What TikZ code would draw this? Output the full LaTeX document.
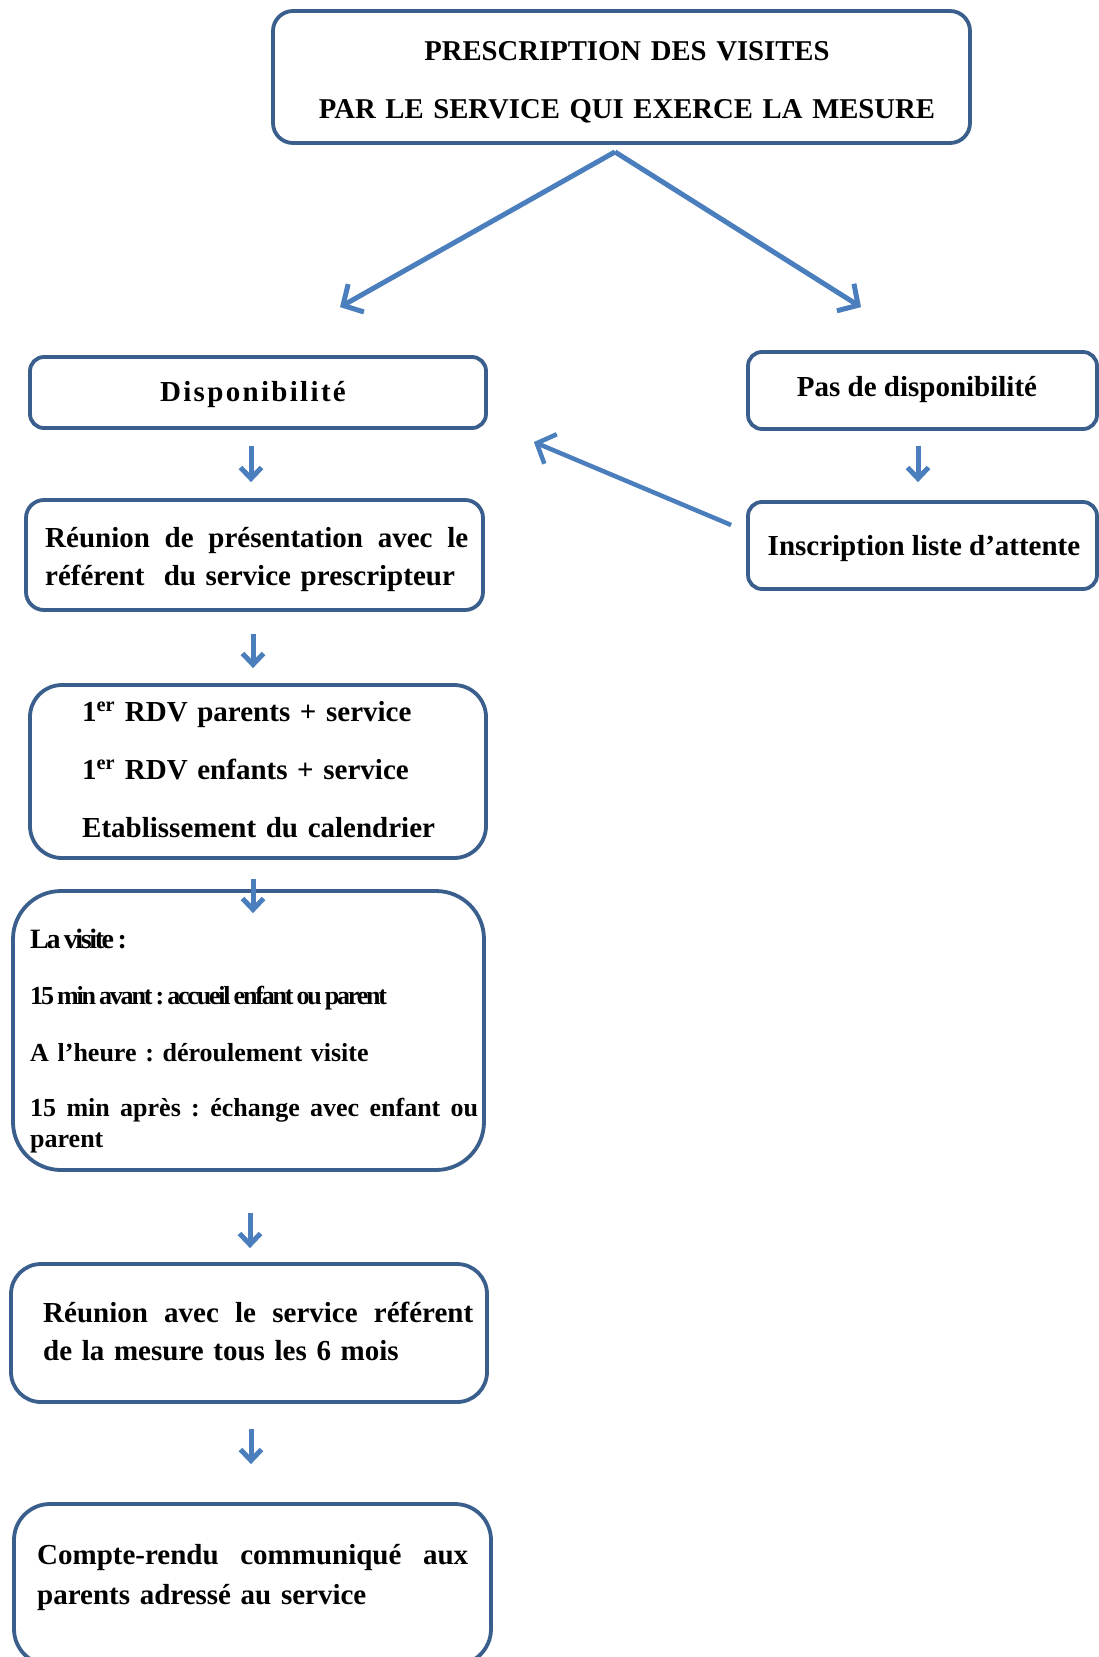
\documentclass[tikz,border=0pt]{standalone}
\usepackage{fontspec}
\setmainfont{Liberation Serif}
\usetikzlibrary{arrows.meta,calc}
\definecolor{boxc}{HTML}{3A5F8C}
\definecolor{arrc}{HTML}{4A7EBD}
\newcommand\justline[2]{\leavevmode\hbox to #1{\spaceskip=0.25em plus 1fil\relax\xspaceskip=\spaceskip #2}}
\newcommand\tightline[1]{{\addfontfeature{LetterSpace=-8.5}\spaceskip=0.12em\relax\xspaceskip=\spaceskip #1}}
\frenchspacing
\begin{document}
\begin{tikzpicture}[x=1pt,y=-1pt,
 rbox/.style={draw=boxc, line width=3.8pt, rounded corners=#1, inner sep=0pt},
 txt/.style={inner sep=0pt, anchor=base west, align=left, font=\bfseries\fontsize{29}{38}\selectfont},
 bigarr/.style={draw=arrc, line width=5pt, -{Straight Barb[length=15pt,width=32pt]}},
 smallarr/.style={draw=arrc, line width=5pt, -{Straight Barb[length=11pt,width=21pt]}},
]
\clip (0,0) rectangle (1099,1657);
\fill[white] (0,0) rectangle (1099,1657);

% boxes
\node[rbox=20pt, minimum width=697pt, minimum height=132pt] (top) at (621.5,77) {};
\node[txt, anchor=base, align=center, text width=697pt] (ttop) at (627,60) {\fontsize{28.7}{38}\selectfont PRESCRIPTION DES VISITES\\[20pt]PAR LE SERVICE QUI EXERCE LA MESURE};

\node[rbox=14pt, minimum width=456pt, minimum height=71pt] (disp) at (258,392.5) {};
\node[txt, anchor=base] (tdisp) at (253,401) {\addfontfeature{LetterSpace=8}Disponibilité};

\node[rbox=14pt, minimum width=349pt, minimum height=77pt] (pas) at (922.5,390.5) {};
\node[txt, anchor=base] (tpas) at (917,396) {Pas de disponibilité};

\node[rbox=14pt, minimum width=349pt, minimum height=87pt] (insc) at (922.5,545.5) {};
\node[txt, anchor=base] (tinsc) at (924,555) {Inscription liste d’attente};

\node[rbox=18pt, minimum width=457pt, minimum height=110pt] (reu1) at (254.5,555) {};
\node[txt, text width=430pt] (treu1) at (45,547) {\justline{423pt}{Réunion de présentation avec le}\\référent\ \ du service prescripteur};

\node[rbox=32pt, minimum width=456pt, minimum height=173pt] (rdv) at (258,771.5) {};
\node[txt, text width=400pt, font=\bfseries\fontsize{29}{58}\selectfont] (trdv) at (82,721) {1\textsuperscript{er} RDV parents + service\\1\textsuperscript{er} RDV enfants + service\\Etablissement du calendrier};

\node[rbox=48pt, minimum width=471pt, minimum height=279pt] (vis) at (248.5,1030.5) {};
\node[txt, text width=460pt, font=\bfseries\fontsize{26}{31}\selectfont] (tvis) at (30,948) {{\fontsize{28}{31}\selectfont\tightline{La visite :}}\\[25pt]\tightline{15 min avant : accueil enfant ou parent}\\[26pt]A l’heure : déroulement visite\\[24pt]\justline{448pt}{15 min après : échange avec enfant ou}\\parent};

\node[rbox=30pt, minimum width=476pt, minimum height=138pt] (reu2) at (249,1333) {};
\node[txt, text width=440pt] (treu2) at (43,1322) {\justline{430pt}{Réunion avec le service référent}\\de la mesure tous les 6 mois};

\node[rbox=36pt, minimum width=477pt, minimum height=161pt] (cr) at (252.5,1584.5) {};
\node[txt, text width=440pt, font=\bfseries\fontsize{29}{40}\selectfont] (tcr) at (37,1564) {\justline{431pt}{Compte-rendu communiqué aux}\\parents adressé au service};

% connectors
\coordinate (fork) at ($(top.south)+(-6.5,7)$);
\draw[bigarr] (fork) -- ($(disp.north)+(82,-48)$);
\draw[bigarr] (fork) -- ($(pas.north)+(-61.5,-43)$);
\draw[smallarr] ($(disp.south)+(-7,16)$) -- ($(reu1.north)+(-3.5,-16)$);
\draw[smallarr] ($(pas.south)+(-4.5,15)$) -- ($(insc.north)+(-4.5,-18)$);
\draw[bigarr, line width=4.5pt] ($(insc.west)+(-15,-20.5)$) -- ($(disp.east)+(46,49.5)$);
\draw[smallarr] ($(reu1.south)+(-1.5,22)$) -- ($(rdv.north)+(-5,-15)$);
\draw[smallarr] ($(rdv.south)+(-5,19)$) -- ($(vis.north)+(4.5,24)$);
\draw[smallarr] ($(vis.south)+(1.5,41)$) -- ($(reu2.north)+(1,-14)$);
\draw[smallarr] ($(reu2.south)+(2,25)$) -- ($(cr.north)+(-1.5,-38)$);
\end{tikzpicture}
\end{document}
